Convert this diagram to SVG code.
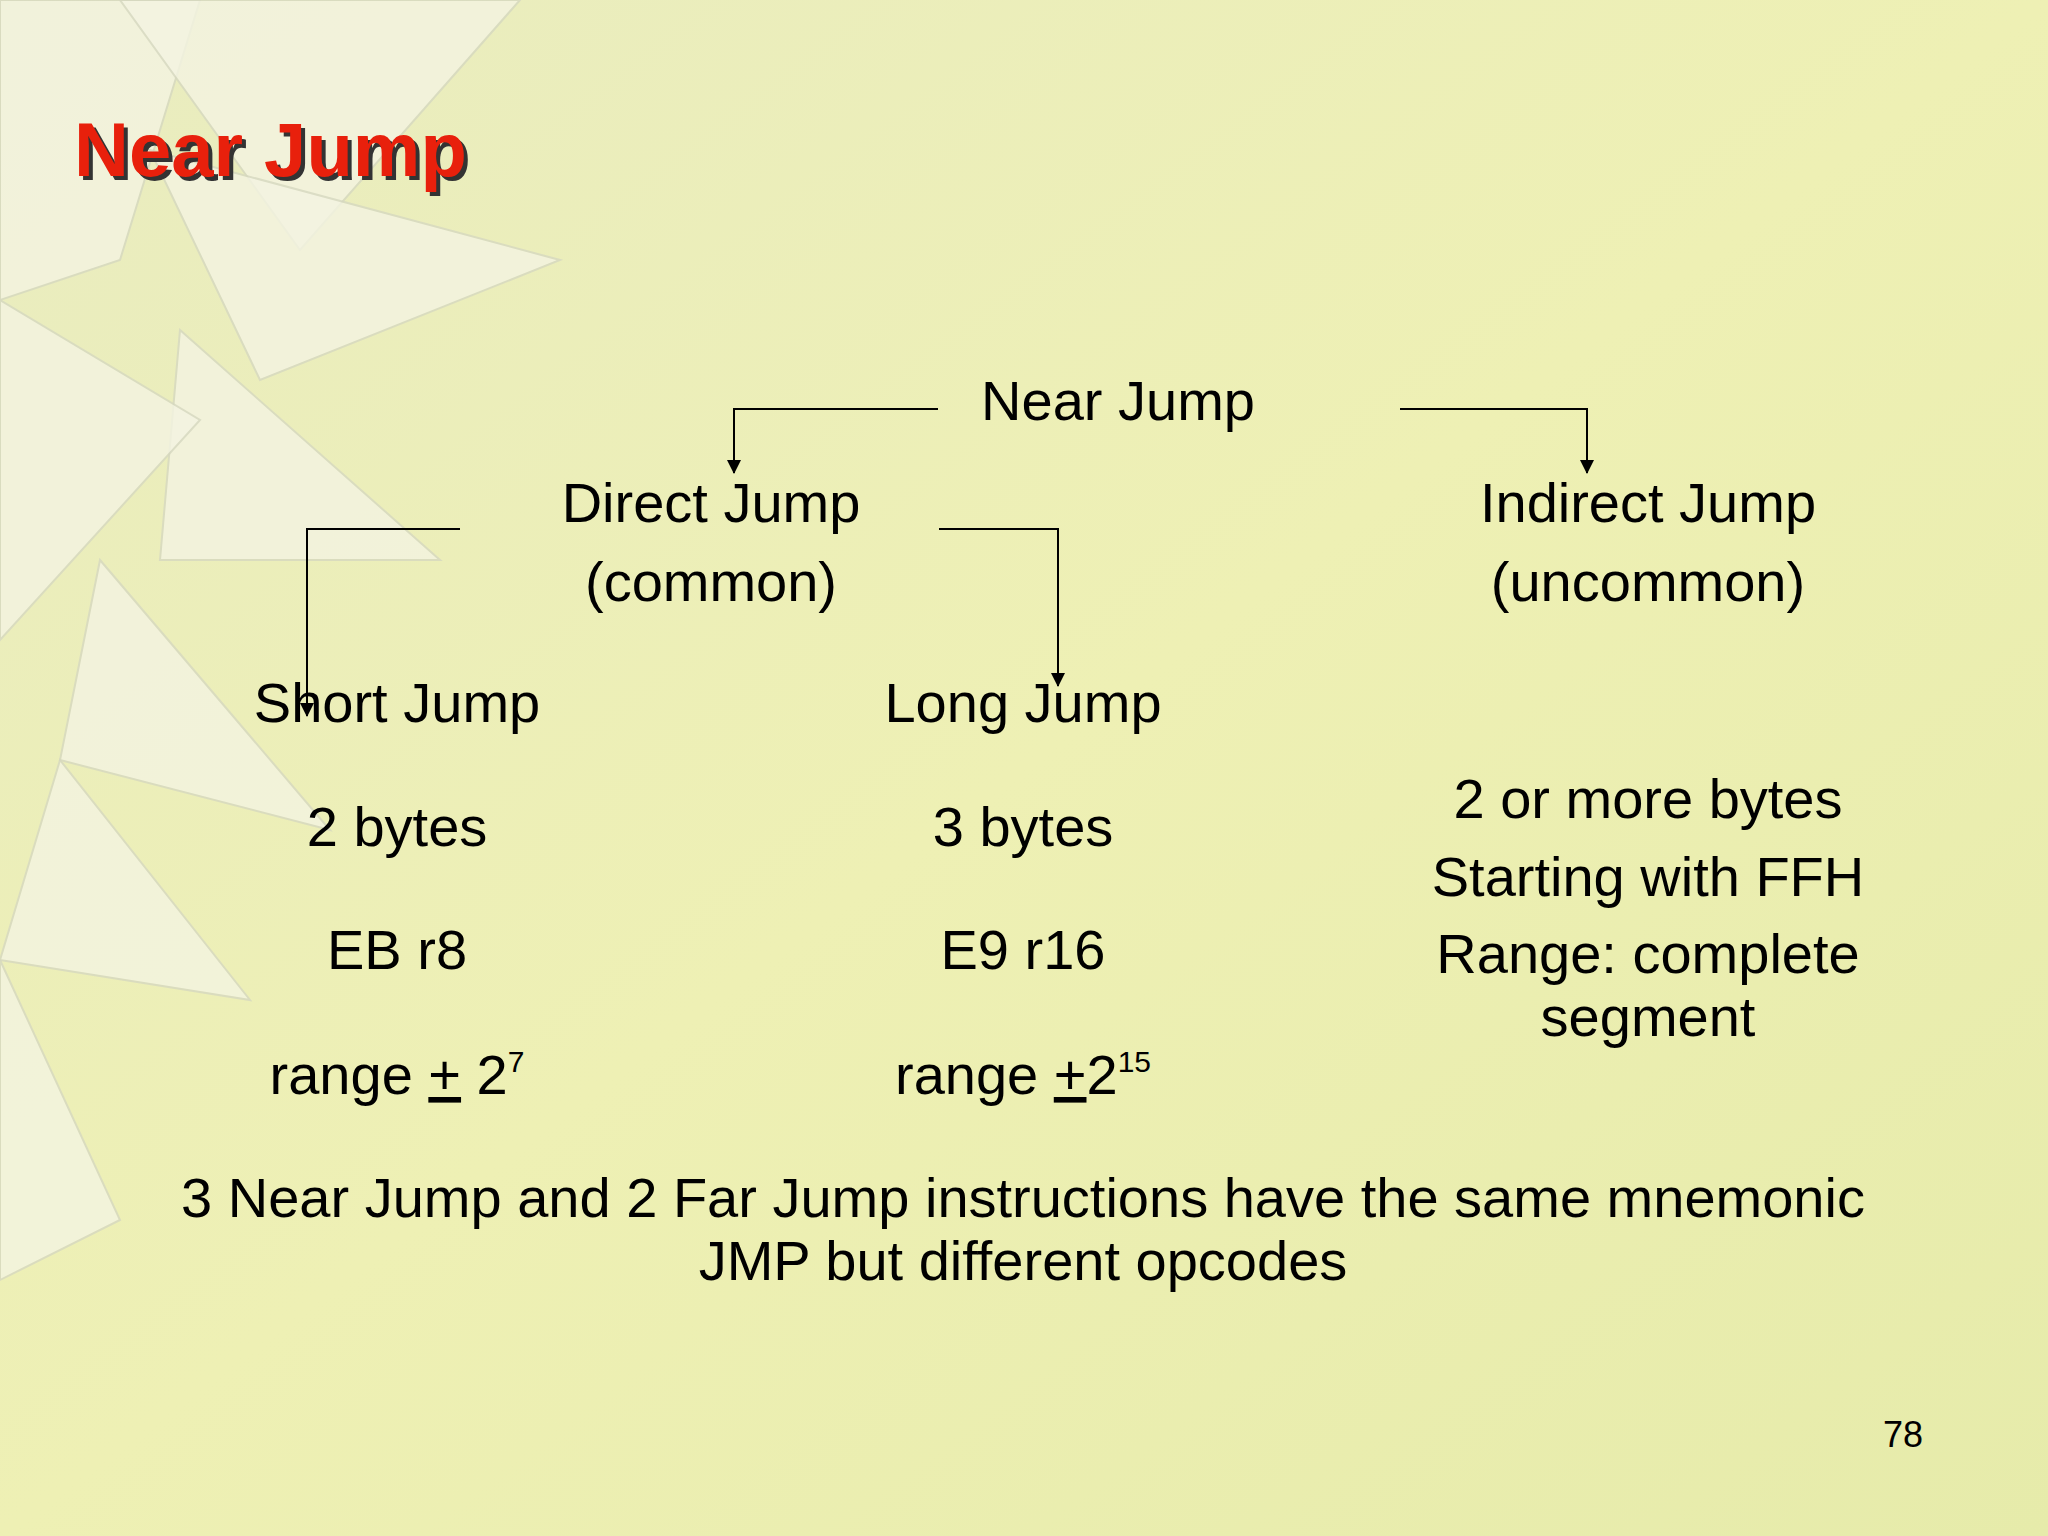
<svg xmlns="http://www.w3.org/2000/svg" width="2048" height="1536" viewBox="0 0 2048 1536">
<defs>
<linearGradient id="bg" x1="0" y1="0" x2="1" y2="1">
<stop offset="0" stop-color="#e9ecc0"/>
<stop offset="0.5" stop-color="#eef0b4"/>
<stop offset="1" stop-color="#e6ebaa"/>
</linearGradient>
<marker id="ah" markerWidth="10" markerHeight="10" refX="5" refY="9" orient="auto" markerUnits="userSpaceOnUse">
<path d="M0,0 L10,0 L5,10 z" fill="#000"/>
</marker>
<marker id="ad" markerWidth="14" markerHeight="14" refX="7" refY="13" orient="0" markerUnits="userSpaceOnUse">
<path d="M0,0 L14,0 L7,14 z" fill="#000"/>
</marker>
</defs>
<style>
.t{font-family:"Liberation Sans",Arial,sans-serif;font-size:56px;fill:#000;text-anchor:middle}
.c{fill:none;stroke:#000;stroke-width:2}
.star{fill:#f4f4e2;stroke:#d6d8c0;stroke-width:2;opacity:0.8}
</style>
<rect width="2048" height="1536" fill="url(#bg)"/>
<g id="decor">
<polygon class="star" points="0,0 200,0 120,260 0,300"/>
<polygon class="star" points="120,0 520,0 300,250"/>
<polygon class="star" points="150,150 560,260 260,380"/>
<polygon class="star" points="180,330 440,560 160,560"/>
<polygon class="star" points="100,560 330,830 60,760"/>
<polygon class="star" points="60,760 250,1000 0,960"/>
<polygon class="star" points="0,960 120,1220 0,1280"/>
<polygon class="star" points="0,300 200,420 0,640"/>
</g>
<g id="title"><text x="78" y="180" font-family="Liberation Sans,Arial,sans-serif" font-size="76" font-weight="bold" fill="#333">Near Jump</text>
<text x="74" y="176" font-family="Liberation Sans,Arial,sans-serif" font-size="76" font-weight="bold" fill="#e8200c">Near Jump</text></g>
<g id="connectors">
<polyline class="c" points="938,409 734,409 734,473" marker-end="url(#ad)"/>
<polyline class="c" points="1400,409 1587,409 1587,473" marker-end="url(#ad)"/>
<polyline class="c" points="460,529 307,529 307,716" marker-end="url(#ad)"/>
<polyline class="c" points="939,529 1058,529 1058,686" marker-end="url(#ad)"/>
</g>
<g id="near"><text class="t" x="1118" y="420">Near Jump</text></g>
<g id="direct"><text class="t" x="711" y="522">Direct Jump</text><text class="t" x="711" y="601">(common)</text></g>
<g id="indirect"><text class="t" x="1648" y="522">Indirect Jump</text><text class="t" x="1648" y="601">(uncommon)</text></g>
<g id="short"><text class="t" x="397" y="722">Short Jump</text><text class="t" x="397" y="846">2 bytes</text><text class="t" x="397" y="969">EB r8</text>
<text class="t" x="397" y="1094">range <tspan text-decoration="underline">+</tspan> 2<tspan font-size="30" dy="-22">7</tspan></text></g>
<g id="long"><text class="t" x="1023" y="722">Long Jump</text><text class="t" x="1023" y="846">3 bytes</text><text class="t" x="1023" y="969">E9 r16</text>
<text class="t" x="1023" y="1094">range <tspan text-decoration="underline">+</tspan>2<tspan font-size="30" dy="-22">15</tspan></text></g>
<g id="indirectinfo"><text class="t" x="1648" y="818">2 or more bytes</text><text class="t" x="1648" y="896">Starting with FFH</text><text class="t" x="1648" y="973">Range: complete</text><text class="t" x="1648" y="1036">segment</text></g>
<g id="note"><text class="t" x="1023" y="1217">3 Near Jump and 2 Far Jump instructions have the same mnemonic</text><text class="t" x="1023" y="1280">JMP but different opcodes</text></g>
<text x="1903" y="1447" font-family="Liberation Sans,Arial,sans-serif" font-size="36" text-anchor="middle">78</text>
</svg>
